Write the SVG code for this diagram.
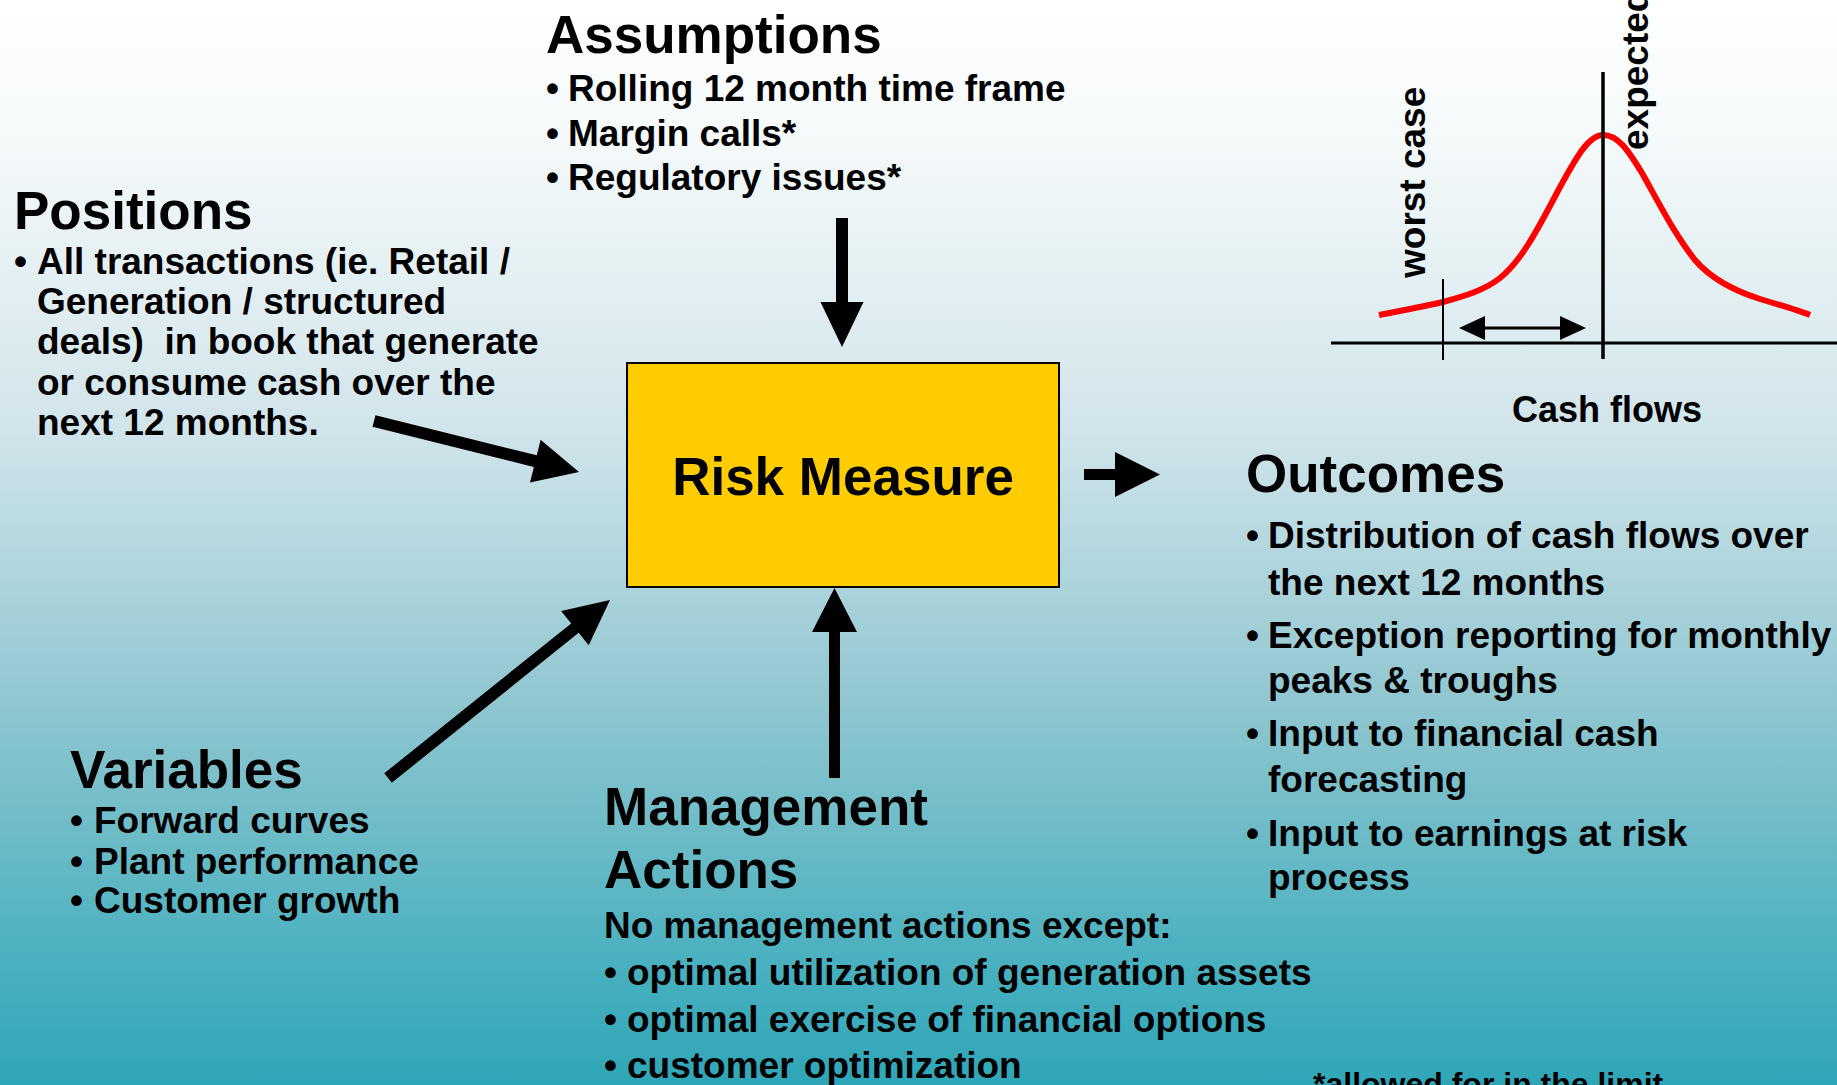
<svg xmlns="http://www.w3.org/2000/svg" width="1837" height="1085" viewBox="0 0 1837 1085">
<defs>
<linearGradient id="bg" x1="0" y1="0" x2="0" y2="1">
<stop offset="0" stop-color="#ffffff"/>
<stop offset="0.12" stop-color="#f6fafb"/>
<stop offset="0.4" stop-color="#d0e4ea"/>
<stop offset="0.65" stop-color="#8fc6d0"/>
<stop offset="0.9" stop-color="#46afbe"/>
<stop offset="1" stop-color="#2fa6b8"/>
</linearGradient>
<style>
text{font-family:"Liberation Sans",Arial,sans-serif;font-weight:bold;fill:#000;white-space:pre}
.title{font-size:53px}
.body{font-size:37px}
.arrow{fill:#000;stroke:none}
</style>
</defs>
<rect x="0" y="0" width="1837" height="1085" fill="url(#bg)"/>

<g id="assumptions">
<text class="title" x="546" y="53">Assumptions</text>
<text class="body" x="546" y="101">•</text><text class="body" x="568" y="101">Rolling 12 month time frame</text>
<text class="body" x="546" y="146">•</text><text class="body" x="568" y="146">Margin calls*</text>
<text class="body" x="546" y="190">•</text><text class="body" x="568" y="190">Regulatory issues*</text>
</g>

<g id="positions">
<text class="title" x="14" y="229">Positions</text>
<text class="body" x="14" y="274">•</text><text class="body" x="37" y="274">All transactions (ie. Retail /</text>
<text class="body" x="37" y="314">Generation / structured</text>
<text class="body" x="37" y="354">deals)  in book that generate</text>
<text class="body" x="37" y="395">or consume cash over the</text>
<text class="body" x="37" y="435">next 12 months.</text>
</g>

<g id="risk-measure">
<rect x="627" y="363" width="432" height="224" fill="#ffcc00" stroke="#000" stroke-width="2"/>
<text class="title" x="843" y="495" text-anchor="middle">Risk Measure</text>
</g>

<g id="variables">
<text class="title" x="70" y="788">Variables</text>
<text class="body" x="70" y="833">•</text><text class="body" x="94" y="833">Forward curves</text>
<text class="body" x="70" y="874">•</text><text class="body" x="94" y="874">Plant performance</text>
<text class="body" x="70" y="913">•</text><text class="body" x="94" y="913">Customer growth</text>
</g>

<g id="management-actions">
<text class="title" x="604" y="825">Management</text>
<text class="title" x="604" y="888">Actions</text>
<text class="body" x="604" y="938">No management actions except:</text>
<text class="body" x="604" y="985">•</text><text class="body" x="627" y="985">optimal utilization of generation assets</text>
<text class="body" x="604" y="1032">•</text><text class="body" x="627" y="1032">optimal exercise of financial options</text>
<text class="body" x="604" y="1078">•</text><text class="body" x="627" y="1078">customer optimization</text>
</g>

<g id="outcomes">
<text class="title" x="1246" y="492">Outcomes</text>
<text class="body" x="1246" y="548">•</text><text class="body" x="1268" y="548">Distribution of cash flows over</text>
<text class="body" x="1268" y="595">the next 12 months</text>
<text class="body" x="1246" y="648">•</text><text class="body" x="1268" y="648">Exception reporting for monthly</text>
<text class="body" x="1268" y="693">peaks &amp; troughs</text>
<text class="body" x="1246" y="746">•</text><text class="body" x="1268" y="746">Input to financial cash</text>
<text class="body" x="1268" y="792">forecasting</text>
<text class="body" x="1246" y="846">•</text><text class="body" x="1268" y="846">Input to earnings at risk</text>
<text class="body" x="1268" y="890">process</text>
</g>

<g id="footnote">
<text x="1313" y="1095" style="font-size:32px">*allowed for in the limit</text>
</g>

<g id="cash-flow-chart">
<path d="M1379,315 C1400,311 1430,305 1443,302 C1465,296 1485,290 1500,278 C1520,262 1535,235 1560,187 C1575,160 1588,135 1603,135 C1618,135 1628,150 1642,173 C1660,205 1675,235 1695,260 C1712,280 1735,291 1760,299 C1780,305 1800,311 1810,315" fill="none" stroke="#ff0000" stroke-width="6"/>
<line x1="1331" y1="343" x2="1837" y2="343" stroke="#000" stroke-width="3"/>
<line x1="1443" y1="279" x2="1443" y2="360" stroke="#000" stroke-width="2"/>
<line x1="1603" y1="72" x2="1603" y2="359" stroke="#000" stroke-width="3.5"/>
<line x1="1482" y1="328" x2="1563" y2="328" stroke="#000" stroke-width="3"/>
<polygon class="arrow" points="1459,328 1485,316 1485,340"/>
<polygon class="arrow" points="1586,328 1560,316 1560,340"/>
<text class="body" transform="translate(1425,278) rotate(-90)">worst case</text>
<text class="body" transform="translate(1648,150) rotate(-90)">expected</text>
<text x="1512" y="422" style="font-size:36px">Cash flows</text>
</g>

<g id="connectors">
<polygon class="arrow" points="836,218 848,218 848,302 863.5,302 842,347 820.5,302 836,302"/>
<polygon class="arrow" points="372.5,426.8 533.9,466.9 530,482.5 579,472 540.6,439.8 536.8,455.3 375.5,415.2"/>
<polygon class="arrow" points="391.8,782.7 578.7,632.8 588.7,645.3 610,600 561.1,610.9 571.2,623.4 384.3,773.3"/>
<polygon class="arrow" points="829,778 829,632 812,632 834.5,588 857,632 840,632 840,778"/>
<polygon class="arrow" points="1084,469 1115,469 1115,452 1160,474.5 1115,497 1115,480 1084,480"/>
</g>
</svg>
